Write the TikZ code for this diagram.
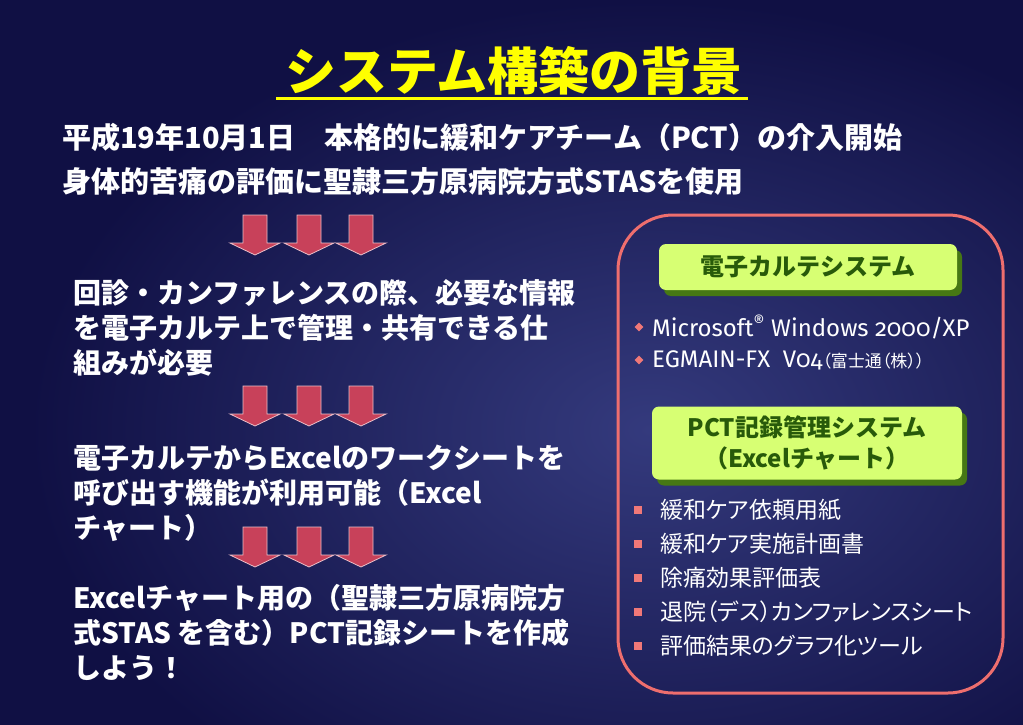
\documentclass[tikz,border=0pt]{standalone}
\usepackage{fontspec}
\setmainfont{Noto Sans CJK JP}
\newfontfamily\jppalt[RawFeature=+palt]{Noto Sans CJK JP}
\newfontfamily\latinfont[Numbers=OldStyle]{Fira Sans}
\usetikzlibrary{shapes.geometric, shadows, positioning, calc}
\definecolor{bgdark}{RGB}{16,16,68}
\definecolor{bglight}{RGB}{52,58,125}
\definecolor{titleyellow}{RGB}{255,255,0}
\definecolor{arrowred}{RGB}{200,65,90}
\definecolor{arrowedge}{RGB}{235,190,200}
\definecolor{panelpink}{RGB}{238,110,110}
\definecolor{limegreen}{RGB}{215,255,115}
\definecolor{shadowgreen}{RGB}{70,120,20}
\definecolor{textgreen}{RGB}{40,90,10}
\definecolor{bulletpink}{RGB}{240,120,120}
\tikzset{
    titletext/.style = {inner sep=0pt, text=titleyellow, font=\bfseries\fontsize{51}{60}\selectfont},
    headtext/.style = {anchor=west, inner sep=0pt, text=white, font=\bfseries\fontsize{29}{34}\selectfont},
    bodytext/.style = {anchor=west, inner sep=0pt, align=left, text=white, font=\bfseries\fontsize{28}{35}\selectfont},
    greenbox/.style = {rectangle, rounded corners=7pt, fill=limegreen, text=textgreen, align=center,
        font=\bfseries\fontsize{24}{31}\selectfont,
        drop shadow={shadow xshift=5pt, shadow yshift=-6pt, fill=shadowgreen, opacity=1}},
    itemtext/.style = {anchor=west, inner sep=0pt, text=white, font=\jppalt\fontsize{23}{28}\selectfont},
    latintext/.style = {anchor=west, inner sep=0pt, text=white, font=\latinfont\fontsize{24}{28}\selectfont},
    sqbullet/.style = {rectangle, fill=bulletpink, inner sep=0pt, minimum size=8pt},
    dmbullet/.style = {diamond, fill=bulletpink, inner sep=0pt, minimum size=9pt},
    downarrow/.pic = {
        \draw[fill=arrowred, draw=arrowedge, line width=0.8pt]
            (-12,0) -- (12,0) -- (12,28) -- (25,28) -- (0,40) -- (-25,28) -- (-12,28) -- cycle;
    }
}
\begin{document}
\begin{tikzpicture}[x=1pt, y=-1pt]

% ---- background ----
\useasboundingbox (0,0) rectangle (1023,725);
\fill[bgdark] (0,0) rectangle (1023,725);
\begin{scope}
  \clip (0,0) rectangle (1023,725);
  \shade[inner color=bglight, outer color=bgdark] (650,430) ellipse [x radius=620, y radius=430];
\end{scope}

% ---- title ----
\node[titletext] (title) at (514,71) {システム構築の背景};
\draw[titleyellow, line width=3pt] ([xshift=-9pt, yshift=-3pt]title.south west) -- ([xshift=5pt, yshift=-3pt]title.south east);

% ---- header lines ----
\node[headtext] (head1) at (62,137) {平成19年10月1日　本格的に緩和ケアチーム（PCT）の介入開始};
\node[headtext] (head2) at (62,182) {身体的苦痛の評価に聖隷三方原病院方式STASを使用};

% ---- left flow ----
\foreach \y in {215,386,527}
  \foreach \x in {255,309,361}
    \pic at (\x,\y) {downarrow};

\node[bodytext] (need) at (73,328) {回診・カンファレンスの際、必要な情報\\を電子カルテ上で管理・共有できる仕\\組みが必要};
\node[bodytext] (excel) at (73,493) {電子カルテからExcelのワークシートを\\呼び出す機能が利用可能（Excel\\チャート）};
\node[bodytext] (sheet) at (73,632) {Excelチャート用の（聖隷三方原病院方\\式STAS を含む）PCT記録シートを作成\\しよう！};

% ---- right panel ----
\node[draw=panelpink, line width=3pt, rounded corners=55pt, minimum width=385pt, minimum height=478pt] (panel) at (810.5,454) {};

\node[greenbox, minimum width=298pt, minimum height=46pt] (karte) at (808,267) {電子カルテシステム};
\node[dmbullet] (dm1) at (639,327) {};
\node[latintext] (os) at (652,327) {Microsoft\textsuperscript{®} Windows 2000/XP};
\node[dmbullet] (dm2) at (639,360) {};
\node[latintext] (eg) at (652,360) {EGMAIN-FX\ \ V04{\jppalt\fontsize{17}{20}\selectfont （富士通（株））}};

\node[greenbox, minimum width=310pt, minimum height=73pt] (pct) at (807,443) {PCT記録管理システム\\（Excelチャート）};
\foreach \txt [count=\i] in {緩和ケア依頼用紙, 緩和ケア実施計画書, 除痛効果評価表, 退院（デス）カンファレンスシート, 評価結果のグラフ化ツール} {
  \node[itemtext] (item\i) at (660,476+34*\i) {\txt};
  \node[sqbullet] (sq\i) at (638,476+34*\i) {};
}

\end{tikzpicture}
\end{document}
